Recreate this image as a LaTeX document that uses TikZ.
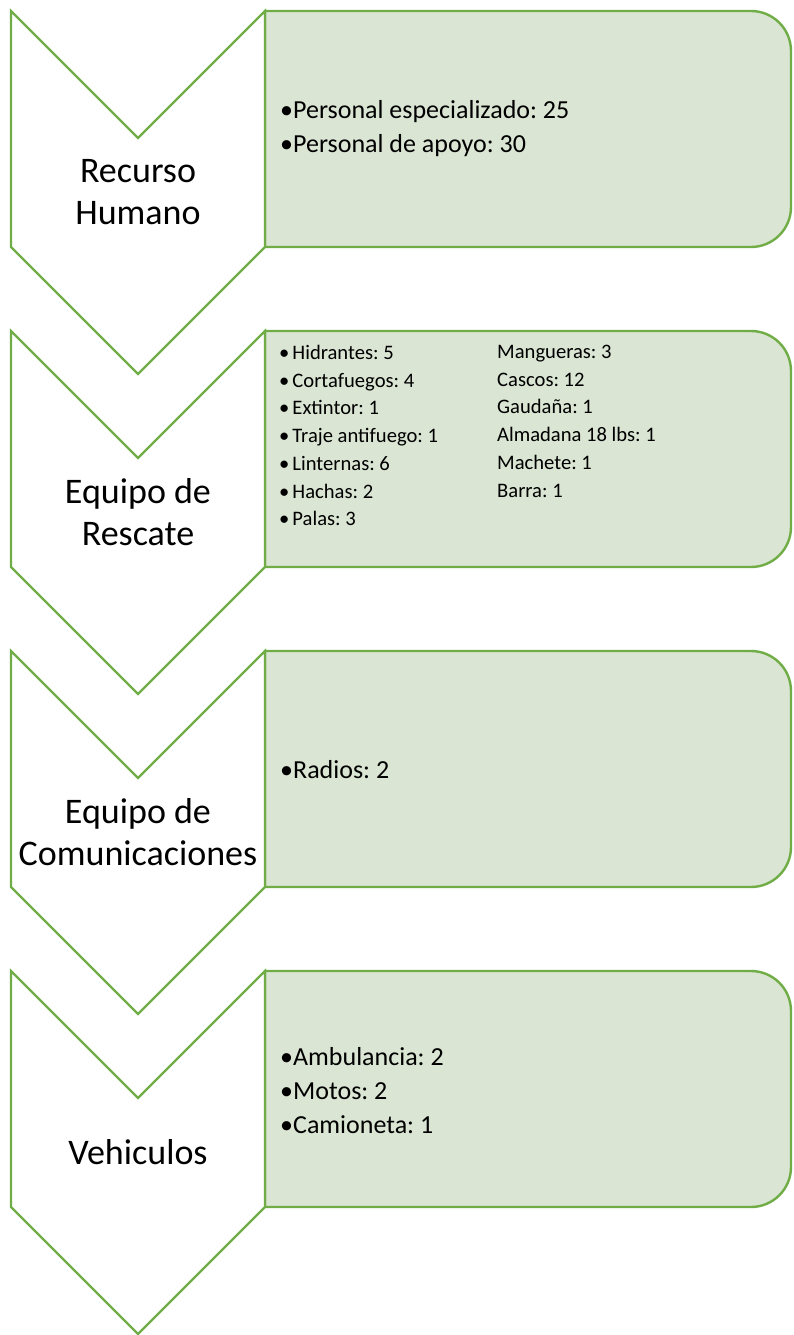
\documentclass[tikz,border=0pt]{standalone}
\usepackage{fontspec}
\setmainfont{Carlito}
\usepackage{tikz}
\usetikzlibrary{positioning}
\definecolor{LeafGreen}{HTML}{70AD47}
\definecolor{PaleGreen}{HTML}{DAE5D3}
\frenchspacing
\tikzset{
  chevron/.style={draw=LeafGreen, fill=white, line width=2.4pt, line join=miter},
  itembox/.style={draw=LeafGreen, fill=PaleGreen, line width=2.4pt},
  steplabel/.style={align=center, inner sep=0pt, font=\fontsize{36}{42}\selectfont},
  bigitems/.style={align=left, inner sep=0pt, anchor=west, font=\fontsize{26}{34}\selectfont},
  smallitems/.style={align=left, inner sep=0pt, anchor=north west, font=\fontsize{20.6}{27.7}\selectfont}
}
\begin{document}
\begin{tikzpicture}[x=1pt, y=1pt]
    \useasboundingbox (0,0) rectangle (793,-1335);
    % Shapes of the four rows
    \foreach \t in {11,331,651,971} {
        \filldraw[itembox] (265,-\t) -- (751,-\t)
            arc[start angle=90, end angle=0, radius=40] -- (791,-\t-196)
            arc[start angle=0, end angle=-90, radius=40] -- (265,-\t-236) -- cycle;
        \filldraw[chevron] (11,-\t) -- (138,-\t-127) -- (265,-\t) -- (265,-\t-236)
            -- (138,-\t-363) -- (11,-\t-236) -- cycle;
    }

    % Step labels
    \node[steplabel] (humano) at (138,-192.5) {Recurso\\Humano};
    \node[steplabel] (rescate) at (138,-512.5) {Equipo de\\Rescate};
    \node[steplabel] (comunic) at (138,-832.5) {Equipo de\\Comunicaciones};
    \node[steplabel] (vehic) at (138,-1152.5) {Vehiculos};

    % Items
    \node[bigitems] (humanoitems) at (280,-129) {%
        •Personal especializado: 25\\
        •Personal de apoyo: 30};
    \node[smallitems] (rescateA) at (279,-345) {%
        •\hspace{3pt}Hidrantes: 5\\
        •\hspace{3pt}Cortafuegos: 4\\
        •\hspace{3pt}Extintor: 1\\
        •\hspace{3pt}Traje antifuego: 1\\
        •\hspace{3pt}Linternas: 6\\
        •\hspace{3pt}Hachas: 2\\
        •\hspace{3pt}Palas: 3};
    \node[smallitems] (rescateB) at (497,-345) {%
        Mangueras: 3\\
        Cascos: 12\\
        Gaudaña: 1\\
        Almadana 18 lbs: 1\\
        Machete: 1\\
        Barra: 1};
    \node[bigitems] (comunicitems) at (280,-770) {•Radios: 2};
    \node[bigitems] (vehicitems) at (280,-1091) {%
        •Ambulancia: 2\\
        •Motos: 2\\
        •Camioneta: 1};
\end{tikzpicture}
\end{document}
